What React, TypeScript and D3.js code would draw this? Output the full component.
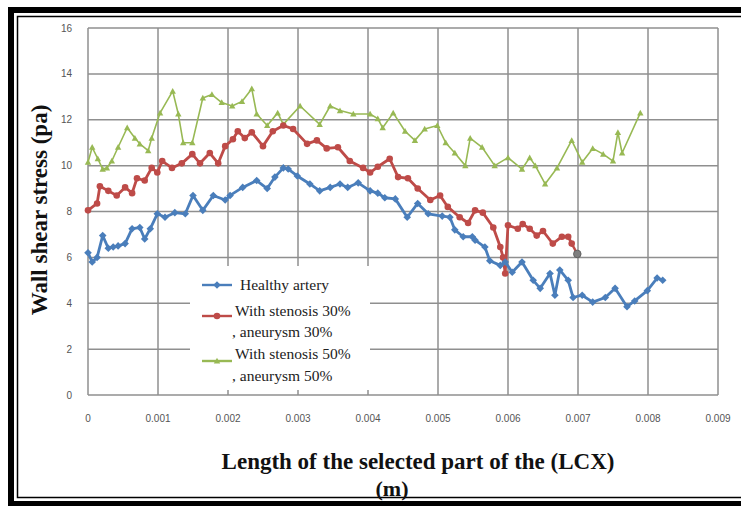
import React from "react";
import * as d3 from "d3";

const xTicks = [0, 0.001, 0.002, 0.003, 0.004, 0.005, 0.006, 0.007, 0.008, 0.009];
const xTickLabels = ["0", "0.001", "0.002", "0.003", "0.004", "0.005", "0.006", "0.007", "0.008", "0.009"];
const yTicks = [0, 2, 4, 6, 8, 10, 12, 14, 16];

const healthy: [number, number][] = [
  [0, 6.2], [0.00006, 5.8], [0.00013, 6.0], [0.00021, 6.95], [0.00029, 6.4], [0.00036, 6.45], [0.00043, 6.5], [0.00053, 6.6],
  [0.00063, 7.25], [0.00074, 7.3], [0.00081, 6.8], [0.00089, 7.25], [0.00099, 7.9], [0.0011, 7.75],
  [0.00124, 7.95], [0.00139, 7.9], [0.0015, 8.7], [0.00164, 8.05], [0.00179, 8.7], [0.00196, 8.5],
  [0.00203, 8.7], [0.00221, 9.05], [0.00241, 9.35], [0.00256, 9.0], [0.00267, 9.5], [0.00279, 9.9],
  [0.00286, 9.85], [0.00299, 9.55], [0.00317, 9.2], [0.00331, 8.9], [0.00346, 9.05], [0.0036, 9.2],
  [0.00371, 9.05], [0.00386, 9.25], [0.00403, 8.9], [0.00414, 8.8], [0.00424, 8.6], [0.00439, 8.55],
  [0.00456, 7.75], [0.00471, 8.35], [0.00486, 7.9], [0.00506, 7.8], [0.00517, 7.75], [0.00524, 7.2],
  [0.00536, 6.9], [0.00549, 6.9], [0.00553, 6.75], [0.00567, 6.45], [0.00574, 5.85], [0.00589, 5.65],
  [0.00596, 5.8], [0.00606, 5.35], [0.0062, 5.8], [0.00636, 5.0], [0.00646, 4.65], [0.0066, 5.3],
  [0.00667, 4.35], [0.00674, 5.45], [0.00686, 5.0], [0.00693, 4.25], [0.00706, 4.35], [0.00721, 4.05],
  [0.00739, 4.25], [0.00753, 4.65], [0.0077, 3.85], [0.00781, 4.1], [0.00799, 4.55], [0.00813, 5.1],
  [0.00821, 5.0],
];

const stenosis30: [number, number][] = [
  [0, 8.05], [0.00013, 8.35], [0.00017, 9.1], [0.00029, 8.9], [0.00041, 8.7], [0.00053, 9.05], [0.00063, 8.8],
  [0.0007, 9.45], [0.00081, 9.35], [0.00091, 9.9], [0.00099, 9.7], [0.00106, 10.2], [0.0012, 9.9],
  [0.00134, 10.1], [0.00149, 10.5], [0.0016, 10.1], [0.00174, 10.55], [0.00186, 10.1], [0.00196, 10.85],
  [0.00207, 11.15], [0.00214, 11.5], [0.00224, 11.2], [0.00234, 11.45], [0.0025, 10.85], [0.00264, 11.5],
  [0.00279, 11.75], [0.00293, 11.6], [0.00313, 10.95], [0.00327, 11.1], [0.00341, 10.75], [0.00357, 10.8],
  [0.00374, 10.2], [0.00393, 9.9], [0.00403, 9.7], [0.00414, 9.95], [0.00431, 10.3], [0.00443, 9.5],
  [0.00457, 9.45], [0.00471, 9.0], [0.00489, 8.5], [0.00503, 8.7], [0.00514, 8.2], [0.00531, 7.75],
  [0.00543, 7.5], [0.00553, 8.05], [0.00564, 7.95], [0.00579, 7.3], [0.00589, 6.45], [0.00593, 6.0],
  [0.00596, 5.3], [0.006, 7.4], [0.00614, 7.25], [0.00621, 7.45], [0.00631, 7.25], [0.00641, 6.95],
  [0.0065, 7.15], [0.00664, 6.6], [0.00677, 6.9], [0.00686, 6.9], [0.00691, 6.6],
];

const stenosis30End: [number, number][] = [[0.00699, 6.15]];

const stenosis50: [number, number][] = [
  [0, 10.15], [0.00006, 10.8], [0.00014, 10.3], [0.00021, 9.85], [0.00027, 9.9], [0.00034, 10.2], [0.00043, 10.8],
  [0.00056, 11.65], [0.00067, 11.2], [0.00074, 10.95], [0.00086, 10.65], [0.00091, 11.2], [0.00103, 12.3],
  [0.00121, 13.25], [0.00129, 12.25], [0.00136, 11.0], [0.00149, 11.0], [0.00164, 12.95], [0.00177, 13.1],
  [0.00191, 12.75], [0.00206, 12.6], [0.0022, 12.8], [0.00234, 13.35], [0.00241, 12.25], [0.00256, 11.75],
  [0.00271, 12.3], [0.00279, 11.8], [0.00303, 12.6], [0.00331, 11.8], [0.00346, 12.6], [0.0036, 12.4],
  [0.00379, 12.25], [0.00403, 12.25], [0.00414, 12.05], [0.00421, 11.65], [0.00436, 12.3], [0.00453, 11.5],
  [0.00467, 11.1], [0.00481, 11.6], [0.00499, 11.75], [0.00511, 11.0], [0.00524, 10.55], [0.00539, 10.0],
  [0.00546, 11.2], [0.00563, 10.8], [0.00581, 10.0], [0.006, 10.35], [0.0062, 9.85], [0.00631, 10.35],
  [0.00639, 10.0], [0.00653, 9.2], [0.0067, 9.9], [0.00691, 11.1], [0.00706, 10.15], [0.00721, 10.75],
  [0.00736, 10.5], [0.0075, 10.2], [0.00757, 11.45], [0.00763, 10.55], [0.00789, 12.3],
];

const legendLabels = [
  ["Healthy artery"],
  ["With stenosis 30%", ", aneurysm 30%"],
  ["With stenosis 50%", ", aneurysm 50%"],
];

const BLUE = "#4a7ebb";
const RED = "#be4b48";
const GREEN = "#98b954";

const W = 741;
const H = 506;
const PL = 88, PR = 718, PT = 28, PB = 395;

function Marker({ kind, x, y, color }: { kind: string; x: number; y: number; color: string }) {
  if (kind === "diamond") {
    const s = 3.8;
    return <path d={`M${x},${y - s}L${x + s},${y}L${x},${y + s}L${x - s},${y}Z`} fill={color} />;
  }
  if (kind === "circle") return <circle cx={x} cy={y} r={3.3} fill={color} />;
  if (kind === "triangle") {
    const s = 3.2;
    return <path d={`M${x},${y - s}L${x + s},${y + s * 0.8}L${x - s},${y + s * 0.8}Z`} fill={color} />;
  }
  return <circle cx={x} cy={y} r={3.8} fill="#7f7f7f" stroke="#555" strokeWidth={0.8} />;
}

export default function App() {
  const x = d3.scaleLinear().domain([0, 0.009]).range([PL, PR]);
  const y = d3.scaleLinear().domain([0, 16]).range([PB, PT]);
  const line = d3.line<[number, number]>().x((d) => x(d[0])).y((d) => y(d[1]));

  const series = [
    { data: stenosis50, color: GREEN, kind: "triangle", width: 1.6 },
    { data: stenosis30, color: RED, kind: "circle", width: 2.8 },
    { data: healthy, color: BLUE, kind: "diamond", width: 2.8 },
  ];

  const legendItems = [
    { color: BLUE, kind: "diamond", lines: legendLabels[0], lineY: 285, textY: [285] },
    { color: RED, kind: "circle", lines: legendLabels[1], lineY: 316, textY: [311, 332] },
    { color: GREEN, kind: "triangle", lines: legendLabels[2], lineY: 361, textY: [354, 376] },
  ];

  return (
    <svg width={W} height={H} style={{ position: "absolute", left: 0, top: 0, background: "#fff" }}>
      <rect x={0} y={0} width={W} height={H} fill="#fff" />
      {/* frame */}
      <rect x={11} y={10} width={W + 20} height={494} fill="none" stroke="#000" strokeWidth={6} />
      <rect x={17.5} y={16.5} width={W + 20} height={481} fill="none" stroke="#000" strokeWidth={1.5} />

      {/* grid */}
      {xTicks.map((t) => (
        <line key={"gx" + t} x1={x(t)} x2={x(t)} y1={PT} y2={PB} stroke="#8f8f8f" strokeWidth={1.5} />
      ))}
      {yTicks.map((t) => (
        <line key={"gy" + t} x1={PL} x2={PR} y1={y(t)} y2={y(t)} stroke="#8f8f8f" strokeWidth={1.5} />
      ))}

      {/* tick labels */}
      {yTicks.map((t) => (
        <text key={"ty" + t} x={72} y={y(t) + 3.5} textAnchor="end" fontFamily="Liberation Sans, Arial, sans-serif" fontSize={10} fill="#555">
          {t}
        </text>
      ))}
      {xTicks.map((t, i) => (
        <text key={"tx" + t} x={x(t)} y={422} textAnchor="middle" fontFamily="Liberation Sans, Arial, sans-serif" fontSize={10} fill="#555">
          {xTickLabels[i]}
        </text>
      ))}

      {/* series */}
      {series.map((s, i) => (
        <g key={"s" + i}>
          <path d={line(s.data) || ""} fill="none" stroke={s.color} strokeWidth={s.width} strokeLinejoin="round" />
          {s.data.map((d, j) => (
            <Marker key={j} kind={s.kind} x={x(d[0])} y={y(d[1])} color={s.color} />
          ))}
        </g>
      ))}
      <path d={line([stenosis30[stenosis30.length - 1], stenosis30End[0]]) || ""} stroke={RED} strokeWidth={2.4} fill="none" />
      {stenosis30End.map((d, j) => (
        <Marker key={"e" + j} kind="end" x={x(d[0])} y={y(d[1])} color="#7f7f7f" />
      ))}

      {/* legend */}
      <rect x={190} y={266} width={180} height={124} fill="#fff" />
      {legendItems.map((it, i) => (
        <g key={"l" + i}>
          <line x1={202} x2={232} y1={it.lineY} y2={it.lineY} stroke={it.color} strokeWidth={2.4} />
          <Marker kind={it.kind} x={217} y={it.lineY} color={it.color} />
          {it.lines.map((t, k) => (
            <text key={k} x={k === 0 ? (i === 0 ? 240 : 235) : 232} y={it.textY[k] + 5} fontFamily="Liberation Serif, Times New Roman, serif" fontSize={15.5} fill="#222">
              {t}
            </text>
          ))}
        </g>
      ))}

      {/* titles */}
      <text
        transform={`translate(47,210) rotate(-90)`}
        textAnchor="middle"
        fontFamily="Liberation Serif, Times New Roman, serif"
        fontWeight="bold"
        fontSize={23}
        fill="#111"
      >
        Wall shear stress (pa)
      </text>
      <text x={418} y={469} textAnchor="middle" fontFamily="Liberation Serif, Times New Roman, serif" fontWeight="bold" fontSize={23} fill="#111">
        Length of the selected part of the (LCX)
      </text>
      <text x={392} y={496} textAnchor="middle" fontFamily="Liberation Serif, Times New Roman, serif" fontWeight="bold" fontSize={22} fill="#111">
        (m)
      </text>
    </svg>
  );
}
